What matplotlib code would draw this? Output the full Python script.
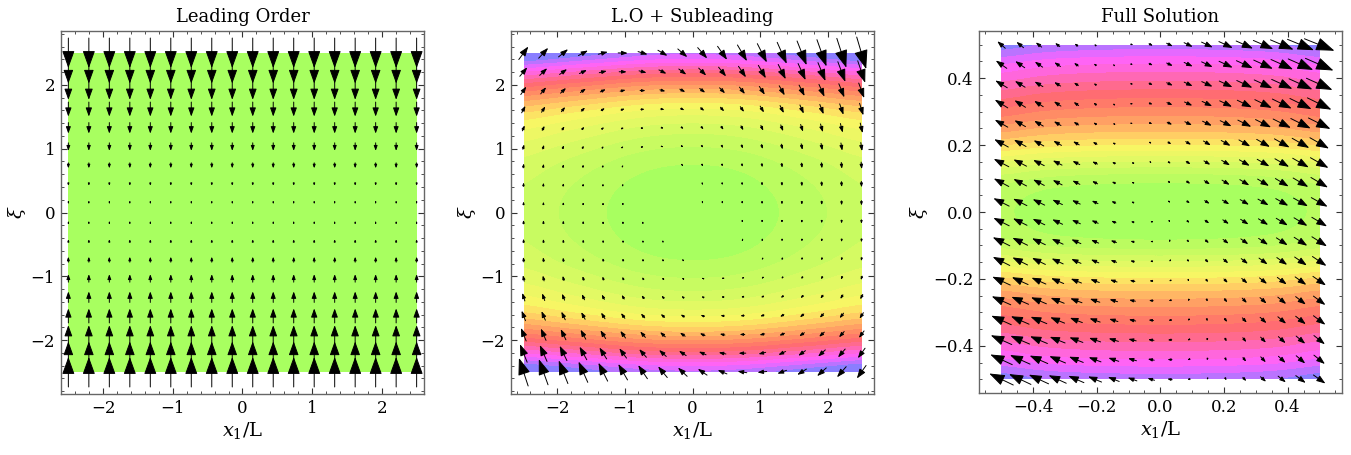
import numpy as np
import matplotlib
matplotlib.use("Agg")
import matplotlib.pyplot as plt
from matplotlib.colors import LinearSegmentedColormap, ListedColormap, BoundaryNorm
from matplotlib.patches import Rectangle
from matplotlib.ticker import MultipleLocator, FuncFormatter

plt.rcParams["font.family"] = "DejaVu Serif"
plt.rcParams["mathtext.fontset"] = "dejavuserif"

# Arrow grid: 18 x 18 points per panel, rows listed from the top edge down.
# Vector components (arrow length in pixels).

# Leading Order: purely vertical, one value per row
lo_v = [-30, -23.5, -18.5, -14.5, -11, -8, -5.5, -3, -1,
        1, 3, 5.5, 8, 11, 14.5, 18.5, 23.5, 30]

# L.O + Subleading: horizontal part per row, vertical = centre + slope * (x / half-width)
sub_u = [9.5, 7.5, 5.5, 3.8, 2.4, 1.3, 0.6, 0.25, 0.05,
         -0.05, -0.25, -0.6, -1.3, -2.6, -3.9, -5.2, -7.2, -9.2]
sub_v_centre = [-9.5, -6.5, -3.5, -2.5, -2.25, -1.75, -1.25, -1.0, -0.75,
                0.0, 0.25, 0.75, 1.0, 1.5, 2.0, 3.0, 4.0, 7.5]
sub_v_slope = [-22.5, -15.5, -11.5, -9.5, -7.75, -6.75, -5.75, -5.0, -4.25,
               -4.0, -3.75, -4.25, -5.0, -6.5, -8.0, -10.0, -14.0, -20.5]

# Full Solution: U = centre + slope * X + bend * X^2, V = centre + slope * X
full_u_centre = [5.1, 5.0, 5.0, 4.5, 4.0, 2.5, 1.5, 1.0, 0.3,
                 -0.3, -1.0, -1.5, -2.5, -3.5, -4.0, -5.0, -5.5, -6.0]
full_u_slope = [19, 19.5, 19, 18.5, 17.5, 16.5, 16.5, 16, 16,
                15.5, 16, 15.5, 15.5, 15.5, 16, 16, 16.5, 18]
full_u_bend = [5.9, 3.5, 2.0, 1.0, 0.5, 0, 0, 0, 0,
               0, 0, 0, 0, 0, 0, 0, 0, 0]
full_v_centre = [-2.5, -2.2, -2.2, -1.8, -1.8, -1.5, -1.2, -1.0, -0.6,
                 -0.6, -0.5, -0.4, -0.3, -0.2, 0.0, 0.3, 0.7, 1.5]
full_v_slope = [-9.5, -10, -9.5, -10, -9.2, -9.3, -9, -9, -8.5,
                -8.5, -9, -9, -8.7, -8.7, -9, -9, -9.5, -10]

# Background shading, 0 = green ... 1 = violet; field = row part + column part
sub_shade_rows = [1.0, 0.75, 0.54, 0.36, 0.23, 0.15, 0.09, 0.045, 0.02, 0.005, 0.0,
                  0.005, 0.02, 0.045, 0.09, 0.15, 0.23, 0.36, 0.54, 0.75, 1.0]
sub_shade_cols = [0.14, 0.098, 0.065, 0.028, 0.006, 0.0, 0.006, 0.028, 0.065, 0.098, 0.14]
full_shade_rows = [1.0, 0.86, 0.77, 0.67, 0.58, 0.48, 0.36, 0.2, 0.06, 0.012, 0.0,
                   0.012, 0.06, 0.2, 0.36, 0.48, 0.58, 0.67, 0.77, 0.86, 1.0]
full_shade_cols = [0.062, 0.026, 0.012, 0.005, 0.001, 0.0, 0.001, 0.005, 0.012, 0.026, 0.062]

titles = ["Leading Order", "L.O + Subleading", "Full Solution"]

N = 18
ARROW_PX = 1.0  # pixels per unit of the values above

base = LinearSegmentedColormap.from_list("shade", [
    (0.0, "#a8ff60"), (0.05, "#bdfc60"), (0.12, "#cefb62"), (0.2, "#e2f964"),
    (0.3, "#f8f664"), (0.38, "#ffd864"), (0.46, "#ffb264"), (0.55, "#ff8c66"),
    (0.64, "#ff6d6c"), (0.72, "#ff6a98"), (0.8, "#ff66dc"), (0.87, "#ff64ff"),
    (0.94, "#c870ff"), (1.0, "#8a7eff")])
levels = np.arange(0, 1.1, 0.05)
band_cmap = ListedColormap(base(levels[:-1]))
band_cmap.set_under(base(0.0))
band_cmap.set_over(base(1.0))
band_norm = BoundaryNorm(levels, band_cmap.N)


def shade(ax, half, rows, cols):
    rows = np.asarray(rows, float)
    cols = np.asarray(cols, float)
    table = rows[:, None] + cols[None, :]
    hx = half / (len(cols) - 1)
    hy = half / (len(rows) - 1)
    im = ax.imshow(table, extent=[-half - hx, half + hx, -half - hy, half + hy],
                   origin="upper", aspect="auto", cmap=band_cmap, norm=band_norm,
                   interpolation="bicubic", interpolation_stage="data", zorder=1)
    im.set_clip_path(Rectangle((-half, -half), 2 * half, 2 * half, transform=ax.transData))


def arrows(ax, half, U, V):
    xs = np.linspace(-half, half, N)
    ys = np.linspace(half, -half, N)
    to_px = ax.transData
    to_data = ax.transData.inverted()
    pt = 72.0 / ax.figure.dpi
    for i, y in enumerate(ys):
        for j, x in enumerate(xs):
            d = np.array([U[i, j], V[i, j]]) * ARROW_PX
            length = np.hypot(d[0], d[1])
            if length < 0.8:
                continue
            c = to_px.transform((x, y))
            tail = to_data.transform(c - d / 2)
            head = to_data.transform(c + d / 2)
            ax.annotate("", xy=head, xytext=tail, annotation_clip=False,
                        arrowprops=dict(arrowstyle="-|>,head_length=0.5,head_width=0.18",
                                        mutation_scale=length * pt, lw=0.7,
                                        color="black", shrinkA=0, shrinkB=0),
                        zorder=3)


def minus(v, _):
    if abs(v) < 1e-9:
        return "0.0"
    return f"{v:.1f}".replace("-", "\u2212")


X = np.linspace(-1, 1, N)[None, :]
col = lambda a: np.asarray(a, float)[:, None]

fields = [
    (np.zeros((N, N)), col(lo_v) + 0 * X),
    (col(sub_u) + 0 * X, col(sub_v_centre) + col(sub_v_slope) * X),
    (col(full_u_centre) + col(full_u_slope) * X + col(full_u_bend) * X ** 2,
     col(full_v_centre) + col(full_v_slope) * X),
]
halves = [2.5, 2.5, 0.5]
xlims = [2.61, 2.69, 0.57]
ylims = [2.85, 2.85, 0.542]
shades = [([0.0] * 3, [0.0] * 3), (sub_shade_rows, sub_shade_cols),
          (full_shade_rows, full_shade_cols)]
rects = [[0.04493, 0.1334, 0.26913, 0.7991],
         [0.37802, 0.1334, 0.26913, 0.7991],
         [0.72465, 0.1356, 0.26847, 0.7969]]

fig = plt.figure(figsize=(13.51, 4.55), dpi=100)
for k in range(3):
    ax = fig.add_axes(rects[k])
    half = halves[k]
    ax.set_xlim(-xlims[k], xlims[k])
    ax.set_ylim(-ylims[k], ylims[k])
    shade(ax, half, *shades[k])
    ax.set_xlim(-xlims[k], xlims[k])
    ax.set_ylim(-ylims[k], ylims[k])
    U, V = fields[k]
    arrows(ax, half, U, V)

    if k < 2:
        ax.xaxis.set_major_locator(MultipleLocator(1))
        ax.yaxis.set_major_locator(MultipleLocator(1))
        ax.xaxis.set_minor_locator(MultipleLocator(0.2))
        ax.yaxis.set_minor_locator(MultipleLocator(0.2))
    else:
        ax.xaxis.set_major_locator(MultipleLocator(0.2))
        ax.yaxis.set_major_locator(MultipleLocator(0.2))
        ax.xaxis.set_minor_locator(MultipleLocator(0.05))
        ax.yaxis.set_minor_locator(MultipleLocator(0.05))
        ax.xaxis.set_major_formatter(FuncFormatter(minus))
        ax.yaxis.set_major_formatter(FuncFormatter(minus))
    ax.tick_params(which="both", direction="in", top=True, right=True,
                   color="#333333", labelsize=12, pad=4)
    ax.tick_params(which="major", length=4, width=0.8)
    ax.tick_params(which="minor", length=2, width=0.6)
    for s in ax.spines.values():
        s.set_color("#666666")
        s.set_linewidth(1.0)
    ax.set_title(titles[k], fontsize=13, pad=6)
    ax.set_xlabel(r"$x_1$/L", fontsize=14, labelpad=2)
    ax.set_ylabel(r"$\xi$", fontsize=14, labelpad=2)

fig.savefig("out.png", dpi=100)
